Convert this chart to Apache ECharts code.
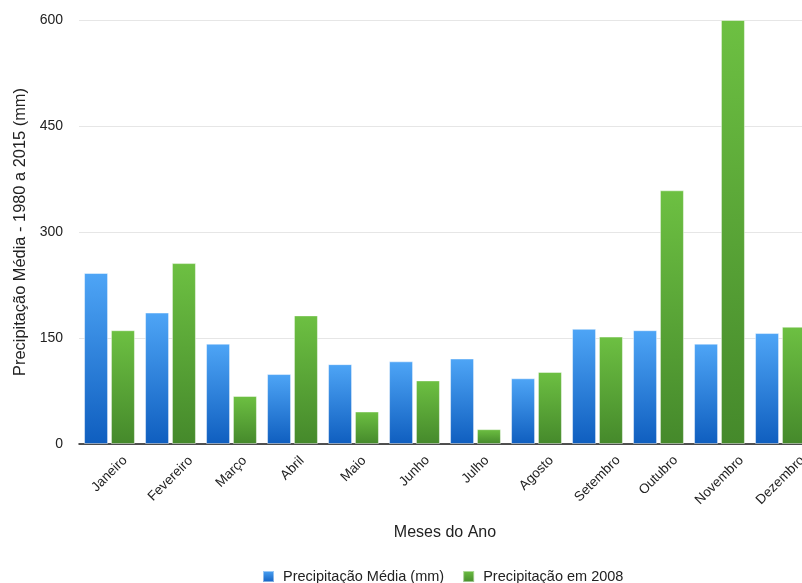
<!DOCTYPE html>
<html>
<head>
<meta charset="utf-8">
<script src="https://cdn.jsdelivr.net/npm/echarts@6/dist/echarts.min.js"></script>
<style>
html,body{margin:0;padding:0;background:#fff;}
#chart{width:802px;height:583px;}
</style>
</head>
<body>
<div id="chart"></div>
<script>
const categories = ['Janeiro','Fevereiro','Março','Abril','Maio','Junho','Julho','Agosto','Setembro','Outubro','Novembro','Dezembro'];
const mediaValues = [242, 186, 142, 99, 113, 117, 121, 93, 163, 161, 142, 157];
const valores2008 = [161, 256, 68, 182, 46, 90, 21, 102, 152, 359, 600, 166];
const yTicks = [0, 150, 300, 450, 600];
const seriesNames = ['Precipitação Média (mm)', 'Precipitação em 2008'];
const axisNames = { x: 'Meses do Ano', y: 'Precipitação Média - 1980 a 2015 (mm)' };

const FONT = 'Liberation Sans, Arial, Helvetica, sans-serif';
const labelSize = 13.5;
const ctx = document.createElement('canvas').getContext('2d');
ctx.font = labelSize + 'px ' + FONT;
// rotated labels: centred horizontally under their tick, top-aligned below the axis
const xData = categories.map(function (c) {
  const p = Math.round(ctx.measureText(c).width / 2);
  return {
    value: c,
    textStyle: {
      align: 'center', verticalAlign: 'top',
      lineHeight: 16 + p,
      padding: [0, 16 + p, 0, 0]
    }
  };
});

function grad(top, bottom) {
  return new echarts.graphic.LinearGradient(0, 0, 0, 1, [
    { offset: 0, color: top }, { offset: 1, color: bottom }
  ]);
}

const chart = echarts.init(document.getElementById('chart'), null, { renderer: 'canvas' });
chart.setOption({
  animation: false,
  backgroundColor: '#ffffff',
  textStyle: { fontFamily: FONT },
  grid: { left: 79, width: 732, top: 20, height: 424, containLabel: false, outerBoundsMode: 'none' },
  legend: {
    left: 262, top: 569, padding: 0,
    itemWidth: 11, itemHeight: 11, itemGap: 18,
    icon: 'rect',
    textStyle: { fontSize: 14.5, color: '#222', fontFamily: FONT, padding: [0, 0, 0, 4] },
    data: seriesNames
  },
  xAxis: {
    type: 'category',
    data: xData,
    name: axisNames.x,
    nameLocation: 'middle',
    nameGap: 81,
    nameMoveOverlap: false,
    nameTextStyle: { fontSize: 16, color: '#222', fontFamily: FONT },
    axisLine: { lineStyle: { color: '#1a1a1a', width: 1.5 } },
    axisTick: { show: false },
    axisLabel: {
      interval: 0, rotate: 45, margin: 3, hideOverlap: false,
      fontSize: labelSize, color: '#222', fontFamily: FONT
    }
  },
  yAxis: {
    type: 'value',
    min: yTicks[0], max: yTicks[yTicks.length - 1], interval: yTicks[1] - yTicks[0],
    name: axisNames.y,
    nameLocation: 'middle',
    nameGap: 49,
    nameTextStyle: { fontSize: 16.4, color: '#222', fontFamily: FONT },
    axisLine: { show: false },
    axisTick: { show: false },
    axisLabel: { fontSize: 14, color: '#222', margin: 16, fontFamily: FONT },
    splitLine: { lineStyle: { color: '#e6e6e6', width: 1 } }
  },
  series: [
    {
      name: seriesNames[0], type: 'bar', data: mediaValues,
      barWidth: 24, barGap: '12%',
      itemStyle: { color: grad('#4EA5F6', '#0F5EBF'), borderColor: 'rgba(255,255,255,0.45)', borderWidth: 1 }
    },
    {
      name: seriesNames[1], type: 'bar', data: valores2008,
      barWidth: 24,
      itemStyle: { color: grad('#6DC042', '#45892B'), borderColor: 'rgba(255,255,255,0.45)', borderWidth: 1 }
    }
  ]
});
</script>
</body>
</html>
